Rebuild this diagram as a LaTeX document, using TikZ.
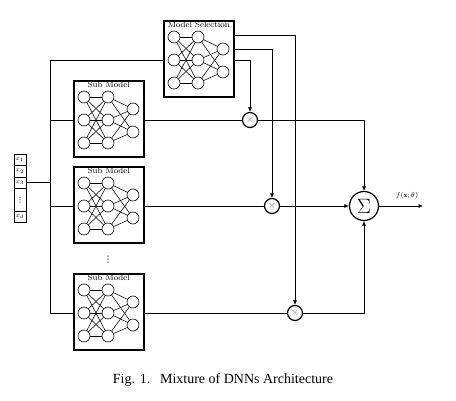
\documentclass[tikz,border=0pt]{standalone}
\usepackage{fontspec}
\usepackage{amsmath}
\newfontfamily\capfont{Liberation Serif}
\newfontfamily\symfont{DejaVu Sans}
\usetikzlibrary{arrows.meta}
\tikzset{
  netbox/.style={draw, line width=1.6pt, minimum width=70pt, minimum height=76pt, inner sep=0pt},
  netlbl/.style={font=\fontsize{8.4}{10}\selectfont, inner sep=1.5pt},
  neuron/.style={draw, circle, line width=0.6pt, minimum size=12pt, inner sep=0pt},
  nnedge/.style={line width=0.55pt},
  wire/.style={line width=0.6pt},
  arr/.style={wire, -{Latex[length=4.5pt,width=4pt]}},
  mult/.style={draw, circle, line width=1.2pt, minimum size=15pt, inner sep=0pt, font=\normalsize, text=black!60},
  sumnode/.style={draw, circle, line width=1.2pt, minimum size=29pt, inner sep=0pt},
  vcell/.style={draw, line width=0.5pt, minimum width=12pt, inner sep=0pt, font=\fontsize{6.5}{7}\selectfont}
}
\newcommand\dnnbox[4]{%
  \node[netbox, anchor=north west] (#1) at (#2,#3) {};
  \node[netlbl, anchor=north] (#1-t) at (#1.north) {#4};
  \foreach \k/\dy in {1/17,2/40,3/63}{
    \node[neuron] (#1-i\k) at (#2+11,#3+\dy) {};
    \node[neuron] (#1-h\k) at (#2+35,#3+\dy) {};
  }
  \foreach \k/\dy in {1/29,2/52}{
    \node[neuron] (#1-o\k) at (#2+60,#3+\dy) {};
  }
  \foreach \a in {1,2,3}{
    \foreach \b in {1,2,3}{\draw[nnedge] (#1-i\a) -- (#1-h\b);}
    \foreach \b in {1,2}{\draw[nnedge] (#1-h\a) -- (#1-o\b);}
  }
}
\begin{document}
\begin{tikzpicture}[x=1pt,y=-1pt]
\useasboundingbox (0,0) rectangle (456,401);
% networks
\dnnbox{ms}{163}{20}{Model Selection}
\dnnbox{sma}{73}{80}{Sub Model}
\dnnbox{smb}{73}{166}{Sub Model}
\dnnbox{smc}{73}{273}{Sub Model}
\node[inner sep=0pt] (vd0) at (108,260) {\symfont\fontsize{9}{10}\selectfont ⋮};
% input vector
\node[vcell, minimum height=11.5pt] (v1) at (20,159.75) {$x_1$};
\node[vcell, minimum height=11.5pt] (v2) at (20,171.25) {$x_2$};
\node[vcell, minimum height=11.5pt] (v3) at (20,182.75) {$x_3$};
\node[vcell, minimum height=23pt] (vv) at (20,200) {\symfont\fontsize{7}{8}\selectfont ⋮};
\node[vcell, minimum height=11pt] (vd) at (20,217) {$x_d$};
% bus
\coordinate (bus) at (50,0);
\draw[wire] (v3.east) -- (bus |- v3.east);
\draw[wire] (bus |- ms-i2) -- (bus |- smc-i2);
\draw[wire] (bus |- ms-i2) -- (ms.west |- ms-i2);
\draw[wire] (bus |- sma-i2) -- (sma.west |- sma-i2);
\draw[wire] (bus |- smb-i2) -- (smb.west |- smb-i2);
\draw[wire] (bus |- smc-i2) -- (smc.west |- smc-i2);
% multipliers and sum
\node[mult] (m1) at (250,120) {$\times$};
\node[mult] (m2) at (272,206) {$\times$};
\node[mult] (m3) at (295,313) {$\times$};
\node[sumnode] (sum) at (364,206) {\huge$\Sigma$};
\coordinate (out) at (423,206);
\node (flab) at (407,196) {\fontsize{7}{8}\selectfont$f(\mathbf{x};\theta)$};
% sub model outputs
\draw[wire] (sma.east |- sma-i2) -- (m1);
\draw[wire] (smb.east |- smb-i2) -- (m2);
\draw[wire] (smc.east |- smc-i2) -- (m3);
% selection outputs
\coordinate (s1) at (233,35);
\coordinate (s2) at (233,49);
\coordinate (s3) at (233,60);
\draw[arr] (s1) -| (m3);
\draw[arr] (s2) -| (m2);
\draw[arr] (s3) -| (m1);
% to sum
\draw[arr] (m1) -| (sum);
\draw[arr] (m2) -- (sum);
\draw[arr] (m3) -| (sum);
\draw[arr] (sum) -- (out);
% caption
\node (cap) at (223,380) {\capfont\fontsize{14}{16}\selectfont Fig. 1.\hspace{0.7em}Mixture of DNNs Architecture};
\end{tikzpicture}
\end{document}
